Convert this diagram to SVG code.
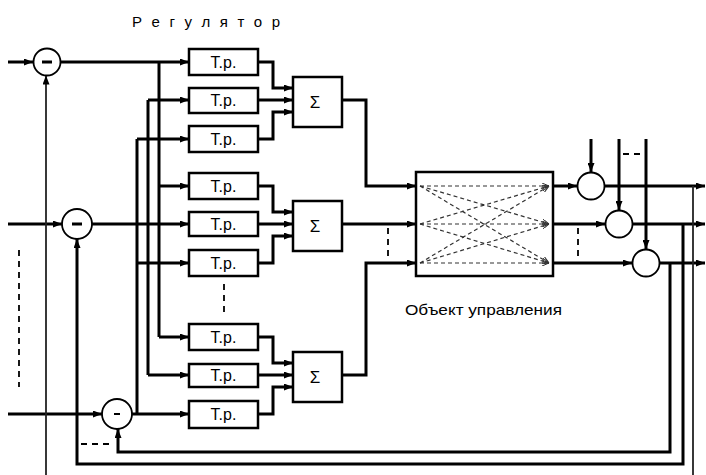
<svg xmlns="http://www.w3.org/2000/svg" width="706" height="475" viewBox="0 0 706 475">
<defs>
<marker id="ah" markerUnits="userSpaceOnUse" markerWidth="9" markerHeight="7" refX="9" refY="3.5" orient="auto"><path d="M0,0 L9,3.5 L0,7 z" fill="#000"/></marker>
<marker id="ahs" markerUnits="userSpaceOnUse" markerWidth="7" markerHeight="6" refX="7" refY="3" orient="auto"><path d="M0,0 L7,3 L0,6" fill="none" stroke="#333" stroke-width="1"/></marker>
<style>
.box{fill:#fff;stroke:#000;stroke-width:2.5}
.circ{fill:#fff;stroke:#000;stroke-width:1.8}
.w{fill:none;stroke:#000;stroke-width:3;stroke-linejoin:miter}
.a{marker-end:url(#ah)}
.thin{fill:none;stroke:#222;stroke-width:1.8}
.dash{fill:none;stroke:#000;stroke-width:1.8;stroke-dasharray:6,5}
.idash{fill:none;stroke:#333;stroke-width:1.2;stroke-dasharray:4,3;marker-end:url(#ahs)}
.t{font-family:"Liberation Sans",Arial,sans-serif;fill:#000}
.tr{font-size:16px;text-anchor:middle}
.sg{font-size:17px;text-anchor:middle}
</style>
</defs>

<g id="labels">
<text class="t" x="132" y="27" font-size="15" textLength="148" lengthAdjust="spacing">Р е г у л я т о р</text>
<text class="t" x="405" y="315" font-size="15" textLength="157" lengthAdjust="spacingAndGlyphs">Объект управления</text>
</g>

<g id="connectors">
<path class="w a" d="M8,62 H33"/>
<path class="w a" d="M8,224 H62"/>
<path class="w a" d="M8,414 H102"/>
<path class="w a" d="M60.5,62 H189"/>
<path class="w a" d="M92,224 H189"/>
<path class="w a" d="M132,414 H189"/>
<path class="w" d="M159,62 V337"/>
<path class="w a" d="M159,186 H189"/>
<path class="w a" d="M159,337 H189"/>
<path class="w a" d="M148,100 H189"/>
<path class="w" d="M148,100 V375"/>
<path class="w a" d="M148,375 H189"/>
<path class="w a" d="M137,139 H189"/>
<path class="w" d="M137,139 V414"/>
<path class="w a" d="M137,263 H189"/>
<path class="w a" d="M258,62 H273 V88 H293"/>
<path class="w a" d="M258,100 H293"/>
<path class="w a" d="M258,139 H273 V112 H293"/>
<path class="w a" d="M258,186 H273 V212 H293"/>
<path class="w a" d="M258,224 H293"/>
<path class="w a" d="M258,263 H273 V236 H293"/>
<path class="w a" d="M258,337 H273 V363 H293"/>
<path class="w a" d="M258,375 H293"/>
<path class="w a" d="M258,414 H273 V387 H293"/>
<path class="w a" d="M342,100 H366 V186 H416"/>
<path class="w a" d="M342,224 H416"/>
<path class="w a" d="M342,375 H366 V263 H416"/>
<path class="w a" d="M553,186 H577"/>
<path class="w a" d="M553,224 H605"/>
<path class="w a" d="M553,263 H632"/>
<path class="w a" d="M591,139 V172"/>
<path class="w a" d="M619,139 V210"/>
<path class="w a" d="M646,139 V249"/>
<path class="w a" d="M604.5,186 H705"/>
<path class="w a" d="M632.5,224 H705"/>
<path class="w a" d="M659.5,263 H705"/>
<path class="thin" d="M693,186 V475"/>
<path class="w a" d="M683,224 V464 H77 V239"/>
<path class="w a" d="M670,263 V452 H118 V429"/>
<path class="thin a" d="M46,475 V75.5"/>
<path class="dash" d="M19,250 V387"/>
<path class="dash" d="M224,284 V312"/>
<path class="dash" d="M388,228 V256"/>
<path class="dash" d="M578,228 V256"/>
<path class="dash" d="M623,154 H642"/>
<path class="dash" d="M81,444 H112"/>
</g>

<g id="sum_in1"><circle class="circ" cx="47" cy="62" r="13.5"/><rect x="42" y="60.5" width="10" height="3" fill="#000"/></g>
<g id="sum_in2"><circle class="circ" cx="77" cy="224" r="15"/><rect x="72" y="222.5" width="10" height="3" fill="#000"/></g>
<g id="sum_in3"><circle class="circ" cx="117" cy="414" r="15"/><rect x="114" y="413" width="6" height="2" fill="#000"/></g>

<g id="tr1"><rect class="box" x="189" y="49" width="69" height="26"/><text class="t tr" x="223.5" y="68">Т.р.</text></g>
<g id="tr2"><rect class="box" x="189" y="88" width="69" height="25"/><text class="t tr" x="223.5" y="106">Т.р.</text></g>
<g id="tr3"><rect class="box" x="189" y="126" width="69" height="26"/><text class="t tr" x="223.5" y="145">Т.р.</text></g>
<g id="tr4"><rect class="box" x="189" y="173" width="69" height="26"/><text class="t tr" x="223.5" y="192">Т.р.</text></g>
<g id="tr5"><rect class="box" x="189" y="212" width="69" height="24"/><text class="t tr" x="223.5" y="230">Т.р.</text></g>
<g id="tr6"><rect class="box" x="189" y="250" width="69" height="26"/><text class="t tr" x="223.5" y="269">Т.р.</text></g>
<g id="tr7"><rect class="box" x="189" y="324" width="69" height="26"/><text class="t tr" x="223.5" y="343">Т.р.</text></g>
<g id="tr8"><rect class="box" x="189" y="364" width="69" height="23"/><text class="t tr" x="223.5" y="381">Т.р.</text></g>
<g id="tr9"><rect class="box" x="189" y="401" width="69" height="27"/><text class="t tr" x="223.5" y="420">Т.р.</text></g>

<g id="sigma1"><rect class="box" x="293" y="77" width="49" height="50"/><text class="t sg" x="315" y="108">Σ</text></g>
<g id="sigma2"><rect class="box" x="293" y="201" width="49" height="50"/><text class="t sg" x="315" y="232">Σ</text></g>
<g id="sigma3"><rect class="box" x="293" y="352" width="49" height="50"/><text class="t sg" x="315" y="383">Σ</text></g>

<g id="plant">
<rect class="box" x="416" y="172" width="137" height="104"/>
<path class="idash" d="M420,186 L549,186"/>
<path class="idash" d="M420,186 L549,224"/>
<path class="idash" d="M420,186 L549,263"/>
<path class="idash" d="M420,224 L549,186"/>
<path class="idash" d="M420,224 L549,224"/>
<path class="idash" d="M420,224 L549,263"/>
<path class="idash" d="M420,263 L549,186"/>
<path class="idash" d="M420,263 L549,224"/>
<path class="idash" d="M420,263 L549,263"/>
</g>

<g id="sum_out1"><circle class="circ" cx="591" cy="186" r="13.5"/></g>
<g id="sum_out2"><circle class="circ" cx="619" cy="224" r="13.5"/></g>
<g id="sum_out3"><circle class="circ" cx="646" cy="263" r="13.5"/></g>
</svg>
